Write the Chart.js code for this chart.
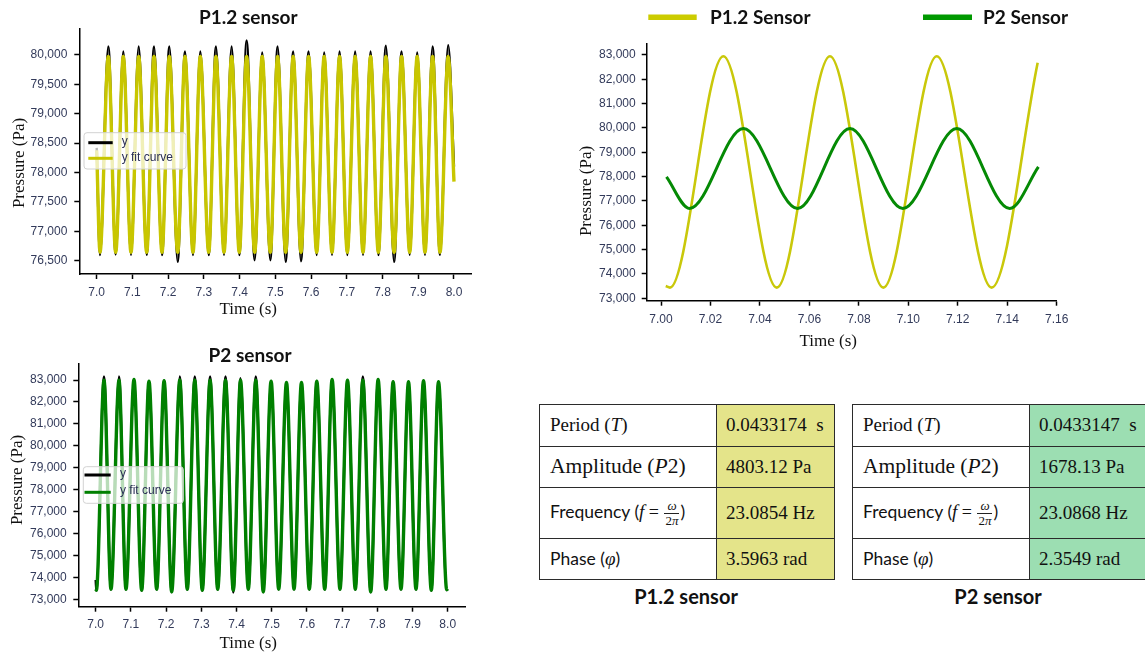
<!DOCTYPE html>
<html>
<head>
<meta charset="utf-8">
<script src="https://cdn.jsdelivr.net/npm/chart.js@4.4.1/dist/chart.umd.min.js"></script>
<style>
html, body { margin: 0; padding: 0; background: #fff; width: 1145px; height: 657px; overflow: hidden; }
.box { position: absolute; }
canvas { display: block; }
.tbl { position: absolute; border-collapse: collapse; table-layout: fixed; width: 295px; }
.tbl td { border: 1.5px solid #2b2b2b; padding: 0 0 0 10px; white-space: nowrap; color: #111; vertical-align: middle; }
.tbl td.v { padding-left: 9px; font-family: "Liberation Serif", serif; font-size: 19px; }
.tbl td.y { background: #e4e48a; }
.tbl td.g { background: #9cdeb2; }
.sr { font-family: "Liberation Serif", serif; }
.sn { font-family: Lato, "Noto Sans", sans-serif; font-size: 17.5px; }
.frac { display: inline-block; vertical-align: middle; text-align: center; font-family: "Liberation Serif", serif; font-size: 13px; line-height: 1.05; margin: 0 1px; }
.frac span { display: block; padding: 0 1px; }
.frac .num { border-bottom: 1px solid #222; }
.cap { position: absolute; font-family: Lato, "Noto Sans", sans-serif; font-weight: bold; font-size: 20px; color: #111; transform: translate(-50%, -50%); white-space: nowrap; }
</style>
</head>
<body>
<div class="box" style="left:0;top:0"><canvas id="c1" width="480" height="330"></canvas></div>
<div class="box" style="left:0;top:340px"><canvas id="c2" width="480" height="317"></canvas></div>
<div class="box" style="left:570px;top:0"><canvas id="c3" width="575" height="360"></canvas></div>
<div id="tables"></div>
<div class="cap" style="left:686px;top:596px">P1.2 sensor</div>
<div class="cap" style="left:998px;top:596px">P2 sensor</div>
<script>
// P1.2 sensor, 7-8 s (start, trough/peak pairs, end)
const p12Times = [7.000, 7.0092, 7.0325, 7.0532, 7.0745, 7.0960, 7.1175, 7.1399, 7.1604, 7.1828, 7.2032, 7.2267, 7.2471, 7.2695, 7.2900, 7.3135, 7.3337, 7.3563, 7.3776, 7.3991, 7.4196, 7.4422, 7.4632, 7.4859, 7.5063, 7.5289, 7.5499, 7.5718, 7.5930, 7.6157, 7.6367, 7.6586, 7.6797, 7.7015, 7.7233, 7.7454, 7.7665, 7.7883, 7.8093, 7.8324, 7.8533, 7.8760, 7.8970, 7.9188, 7.9401, 7.9608, 7.9837, 8.000];
const p12Measured = [78420, 76595, 80145, 76607, 80060, 76600, 80145, 76600, 80145, 76595, 80145, 76480, 80060, 76595, 80060, 76595, 80145, 76600, 80145, 76595, 80247, 76508, 80043, 76508, 80145, 76480, 80060, 76491, 80060, 76595, 80043, 76600, 80060, 76595, 80060, 76600, 80060, 76595, 80157, 76480, 80060, 76600, 80043, 76600, 80145, 76600, 80168, 78100];
const p12Fit = [78380, 76645, 79975, 76645, 79975, 76645, 79975, 76645, 79975, 76645, 79975, 76645, 79975, 76645, 79975, 76645, 79975, 76645, 79975, 76645, 79975, 76645, 79975, 76645, 79975, 76645, 79975, 76645, 79975, 76645, 79975, 76645, 79975, 76645, 79975, 76645, 79975, 76645, 79975, 76645, 79975, 76645, 79975, 76645, 79975, 76645, 79975, 77845];

// P2 sensor, 7-8 s (start, trough, peak/trough pairs, end)
const p2Times = [7.000, 7.0020, 7.0236, 7.0435, 7.0662, 7.0861, 7.1088, 7.1307, 7.1514, 7.1733, 7.1943, 7.2159, 7.2389, 7.2602, 7.2815, 7.3028, 7.3250, 7.3466, 7.3688, 7.3909, 7.4114, 7.4335, 7.4548, 7.4761, 7.4983, 7.5199, 7.5420, 7.5634, 7.5846, 7.6068, 7.6281, 7.6506, 7.6716, 7.6940, 7.7153, 7.7375, 7.7589, 7.7813, 7.8023, 7.8247, 7.8449, 7.8673, 7.8886, 7.9099, 7.9313, 7.9534, 7.9739, 7.9972, 8.000];
const p2Measured = [73880, 73395, 83160, 73438, 83160, 73438, 83038, 73393, 82962, 73438, 82978, 73317, 83160, 73438, 83160, 73393, 83160, 73438, 83160, 73311, 83084, 73438, 83160, 73317, 82962, 73438, 82902, 73438, 82902, 73438, 82962, 73438, 83038, 73438, 83008, 73438, 83160, 73317, 83038, 73438, 82932, 73438, 82932, 73438, 82978, 73393, 82932, 73415, 73470];
const p2Fit = [73470, 73420, 82990, 73463, 82990, 73463, 83020, 73418, 82950, 73463, 82965, 73342, 83000, 73463, 82990, 73418, 82990, 73463, 82990, 73418, 82990, 73463, 82990, 73342, 82950, 73463, 82890, 73463, 82890, 73463, 82950, 73463, 83020, 73463, 82995, 73463, 82990, 73342, 83025, 73463, 82920, 73463, 82920, 73463, 82965, 73418, 82920, 73440, 73480];

// Zoomed fit curves, 7.00-7.16 s
const zoomP12Times = [7.0019, 7.0036, 7.0252, 7.0468, 7.0683, 7.0899, 7.1115, 7.1337, 7.1523];
const zoomP12Values = [73505, 73440, 82950, 73440, 82950, 73440, 82950, 73440, 82684];
const zoomP2Times = [7.0022, 7.0115, 7.0333, 7.0552, 7.0764, 7.0978, 7.1196, 7.1410, 7.1526];
const zoomP2Values = [77986, 76690, 79975, 76690, 79975, 76690, 79975, 76690, 78398];

// tick labels
const timeTicks = [7.0, 7.1, 7.2, 7.3, 7.4, 7.5, 7.6, 7.7, 7.8, 7.9, 8.0];
const zoomTimeTicks = [7.00, 7.02, 7.04, 7.06, 7.08, 7.10, 7.12, 7.14, 7.16];
const p12PressureTicks = [76500, 77000, 77500, 78000, 78500, 79000, 79500, 80000];
const p2PressureTicks = [73000, 74000, 75000, 76000, 77000, 78000, 79000, 80000, 81000, 82000, 83000];
const zoomPressureTicks = [73000, 74000, 75000, 76000, 77000, 78000, 79000, 80000, 81000, 82000, 83000];

// fit parameter tables
const paramLabels = [
  '<span class="sr" style="font-size:19px">Period (<i>T</i>)</span>',
  '<span class="sr" style="font-size:21.5px">Amplitude (<i>P</i>2)</span>',
  '<span class="sn">Frequency (<i class="sr" style="font-size:19px">f</i>&nbsp;<span class="sr" style="font-size:18px">=</span>&nbsp;<span class="frac"><span class="num"><i>ω</i></span><span>2<i>π</i></span></span>)</span>',
  '<span class="sn">Phase (<i class="sr" style="font-size:19px">φ</i>)</span>'
];
const p12Params = ['0.0433174&nbsp; s', '4803.12 Pa', '23.0854 Hz', '3.5963 rad'];
const p2Params = ['0.0433147&nbsp; s', '1678.13 Pa', '23.0868 Hz', '2.3549 rad'];
const rowHeights = [41.7, 41.6, 51, 40.7];

const tickColor = '#323a5a';
const yellow = '#c8c600';

function pts(xs, ys) {
  return xs.map((x, i) => ({ x: x, y: ys[i] }));
}

function buildTable(left, values, cls) {
  let html = '<table class="tbl" style="left:' + left + 'px;top:404px"><colgroup><col style="width:177px"><col style="width:118px"></colgroup>';
  paramLabels.forEach((lab, i) => {
    html += '<tr style="height:' + rowHeights[i] + 'px"><td>' + lab + '</td><td class="v ' + cls + '">' + values[i] + '</td></tr>';
  });
  return html + '</table>';
}
document.getElementById('tables').innerHTML = buildTable(539, p12Params, 'y') + buildTable(852, p2Params, 'g');

// draws titles, axis titles and legends at fixed spots
const overlay = {
  id: 'overlay',
  afterDraw(chart, args, o) {
    const ctx = chart.ctx;
    ctx.save();
    if (o.box) {
      const b = o.box;
      ctx.fillStyle = 'rgba(255,255,255,0.72)';
      ctx.strokeStyle = '#d2d2d2';
      ctx.lineWidth = 1;
      ctx.beginPath();
      ctx.roundRect(b.x, b.y, b.w, b.h, 3);
      ctx.fill();
      ctx.stroke();
    }
    (o.swatches || []).forEach(s => {
      ctx.strokeStyle = s.color;
      ctx.lineWidth = s.width;
      ctx.beginPath();
      ctx.moveTo(s.x1, s.y);
      ctx.lineTo(s.x2, s.y);
      ctx.stroke();
    });
    (o.texts || []).forEach(t => {
      ctx.save();
      ctx.translate(t.x, t.y);
      if (t.rot) ctx.rotate(t.rot);
      ctx.font = t.font;
      ctx.fillStyle = t.color || '#111';
      ctx.textAlign = t.align || 'center';
      ctx.textBaseline = 'middle';
      ctx.fillText(t.text, 0, 0);
      ctx.restore();
    });
    ctx.restore();
  }
};

function xAxis(min, max, ticks, dec, pad, h) {
  return {
    type: 'linear', min: min, max: max,
    afterBuildTicks: s => { s.ticks = ticks.map(v => ({ value: v })); },
    afterFit: s => { s.height = h; },
    ticks: { color: tickColor, font: { family: '"Liberation Sans", Arial', size: 12 }, padding: pad, maxRotation: 0, autoSkip: false,
      callback: v => Number(v).toFixed(dec) },
    grid: { drawOnChartArea: false, tickLength: 5, tickWidth: 1.5, tickColor: '#000' },
    border: { color: '#000', width: 1.5 }
  };
}
function yAxis(min, max, ticks, pad, w) {
  return {
    type: 'linear', min: min, max: max,
    afterBuildTicks: s => { s.ticks = ticks.map(v => ({ value: v })); },
    afterFit: s => { s.width = w; },
    ticks: { color: tickColor, font: { family: '"Liberation Sans", Arial', size: 12 }, padding: pad, autoSkip: false,
      callback: v => Number(v).toLocaleString('en-US') },
    grid: { drawOnChartArea: false, tickLength: 5, tickWidth: 1.5, tickColor: '#000' },
    border: { color: '#000', width: 1.5 }
  };
}
function line(label, data, color, width, order) {
  return { label: label, data: data, borderColor: color, backgroundColor: color, borderWidth: width, pointRadius: 0,
    fill: false, cubicInterpolationMode: 'monotone', order: order };
}

const serif = '17px "Liberation Serif", serif';
const boldSans = 'bold 19px Lato, "Noto Sans", sans-serif';
const small = '12px "Liberation Sans", Arial';

new Chart(document.getElementById('c1'), {
  type: 'line',
  data: { datasets: [
    line('y', pts(p12Times, p12Measured), '#000', 2.4, 1),
    line('y fit curve', pts(p12Times, p12Fit), yellow, 3.4, 0)
  ] },
  options: {
    responsive: false, animation: false,
    layout: { padding: { top: 28.3, right: 9, left: 0, bottom: 0 } },
    scales: { x: xAxis(6.9513, 8.0476, timeTicks, 1, 6, 56), y: yAxis(76274, 80454, p12PressureTicks, 7, 79.3) },
    plugins: {
      legend: { display: false }, tooltip: { enabled: false },
      overlay: {
        box: { x: 84, y: 132.7, w: 102, h: 36.3 },
        swatches: [{ x1: 88.3, x2: 112.7, y: 142.7, color: '#000', width: 3 }, { x1: 88.3, x2: 112.7, y: 158.3, color: yellow, width: 3 }],
        texts: [
          { text: 'P1.2 sensor', x: 248.3, y: 18.3, font: boldSans },
          { text: 'Pressure (Pa)', x: 20, y: 163, rot: -Math.PI / 2, font: serif },
          { text: 'Time (s)', x: 248.3, y: 310, font: serif },
          { text: 'y', x: 121.7, y: 141.7, align: 'left', font: small, color: '#2a2f55' },
          { text: 'y fit curve', x: 121.7, y: 157.3, align: 'left', font: small, color: '#2a2f55' }
        ]
      }
    }
  },
  plugins: [overlay]
});

new Chart(document.getElementById('c2'), {
  type: 'line',
  data: { datasets: [
    line('y', pts(p2Times, p2Measured), '#000', 2.4, 1),
    line('y fit curve', pts(p2Times, p2Fit), '#008000', 3.4, 0)
  ] },
  options: {
    responsive: false, animation: false,
    layout: { padding: { top: 24, right: 15, left: 0, bottom: 0 } },
    scales: { x: xAxis(6.9506, 8.0491, timeTicks, 1, 5.6, 50.3), y: yAxis(72663, 83730, p2PressureTicks, 6.6, 78.3) },
    plugins: {
      legend: { display: false }, tooltip: { enabled: false },
      overlay: {
        box: { x: 83.3, y: 126.7, w: 100, h: 36.6 },
        swatches: [{ x1: 84.5, x2: 110.7, y: 135, color: '#000', width: 3 }, { x1: 84.5, x2: 110.7, y: 152.3, color: '#008000', width: 3 }],
        texts: [
          { text: 'P2 sensor', x: 250, y: 16, font: boldSans },
          { text: 'Pressure (Pa)', x: 17.3, y: 140, rot: -Math.PI / 2, font: serif },
          { text: 'Time (s)', x: 248.3, y: 304, font: serif },
          { text: 'y', x: 120, y: 134, align: 'left', font: small, color: '#2a2f55' },
          { text: 'y fit curve', x: 120, y: 151, align: 'left', font: small, color: '#2a2f55' }
        ]
      }
    }
  },
  plugins: [overlay]
});

new Chart(document.getElementById('c3'), {
  type: 'line',
  data: { datasets: [
    line('P1.2 Sensor', pts(zoomP12Times, zoomP12Values), '#c9c80a', 2.6, 1),
    line('P2 Sensor', pts(zoomP2Times, zoomP2Values), '#058a05', 3, 0)
  ] },
  options: {
    responsive: false, animation: false,
    layout: { padding: { top: 43.3, right: 88.3, left: 0, bottom: 0 } },
    scales: { x: xAxis(6.9942, 7.16, zoomTimeTicks, 2, 6.6, 59.3), y: yAxis(72901, 83480, zoomPressureTicks, 6, 76.7) },
    plugins: {
      legend: { display: false }, tooltip: { enabled: false },
      overlay: {
        swatches: [{ x1: 78.3, x2: 126.7, y: 17.3, color: '#cccc00', width: 5.5 }, { x1: 353, x2: 402, y: 17.3, color: '#009900', width: 5.5 }],
        texts: [
          { text: 'P1.2 Sensor', x: 140, y: 18, align: 'left', font: boldSans },
          { text: 'P2 Sensor', x: 413, y: 18, align: 'left', font: boldSans },
          { text: 'Pressure (Pa)', x: 17, y: 191, rot: -Math.PI / 2, font: serif },
          { text: 'Time (s)', x: 258.3, y: 341.7, font: serif }
        ]
      }
    }
  },
  plugins: [overlay]
});
</script>
</body>
</html>
